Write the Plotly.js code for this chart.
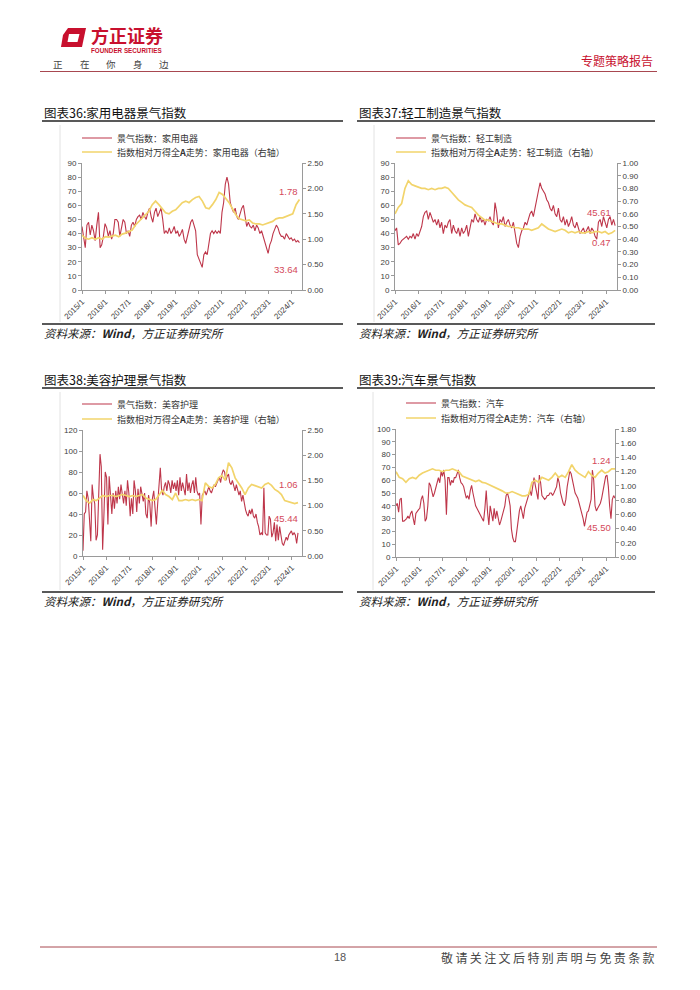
<!DOCTYPE html>
<html><head><meta charset="utf-8">
<script src="https://cdn.plot.ly/plotly-3.0.1.min.js"></script>
<style>html,body{margin:0;padding:0;background:#fff}#c{width:700px;height:990px}</style>
</head><body><div id="c"></div>
<script>
// ---------------- DATA ----------------
const yearTicksStart = '2015-01-01';

// 图表36 家用电器
const homeApplianceIdx = [45,38,30,46,48,39,46,42,35,46,55,30,32,38,47,44,38,42,36,40,50,50,48,38,45,50,48,40,42,38,46,48,45,50,52,53,50,55,52,50,55,58,52,48,55,58,52,55,58,50,40,42,40,44,40,42,45,40,42,38,40,43,36,33,38,42,48,50,45,42,25,22,18,16,25,27,25,32,40,42,40,42,40,42,40,55,62,75,80,75,62,58,55,58,52,50,55,58,60,52,45,48,45,44,46,42,46,44,40,42,38,35,30,26,32,35,40,43,46,44,40,38,38,36,40,38,36,37,35,36,34,35,33.64];
const homeApplianceRel = [1.08,1.02,1.0,1.03,1.0,1.03,1.0,1.05,1.04,1.06,1.08,1.05,1.1,1.12,1.15,1.18,1.28,1.35,1.42,1.48,1.55,1.68,1.75,1.68,1.6,1.52,1.5,1.55,1.58,1.65,1.72,1.75,1.72,1.78,1.82,1.84,1.75,1.62,1.6,1.68,1.78,1.92,1.88,1.8,1.72,1.6,1.48,1.4,1.38,1.36,1.38,1.32,1.3,1.3,1.28,1.3,1.33,1.35,1.4,1.42,1.42,1.45,1.48,1.5,1.68,1.78];

// 图表37 轻工制造
const lightMfgIdx = [42,44,32,33,35,36,37,38,36,38,37,40,36,40,38,42,45,52,55,56,50,55,52,48,50,46,50,44,48,40,46,44,48,50,40,46,42,40,44,38,44,40,42,46,38,44,50,48,54,50,48,52,48,50,46,50,49,52,48,46,62,55,44,50,48,52,45,48,50,46,44,48,40,33,30,38,42,44,48,46,50,54,56,52,58,65,72,76,72,70,68,64,62,58,56,60,54,52,58,50,48,52,46,50,45,48,52,46,44,48,44,40,42,44,40,42,45,40,44,42,38,36,48,50,45,52,48,44,50,52,46,50,45.61];
const lightMfgRel = [0.6,0.65,0.68,0.8,0.86,0.83,0.82,0.81,0.8,0.8,0.79,0.8,0.79,0.8,0.8,0.81,0.8,0.77,0.74,0.71,0.69,0.67,0.66,0.65,0.62,0.59,0.57,0.55,0.55,0.54,0.53,0.52,0.52,0.51,0.5,0.5,0.49,0.49,0.48,0.48,0.48,0.47,0.48,0.49,0.52,0.5,0.48,0.47,0.46,0.47,0.48,0.47,0.45,0.46,0.45,0.46,0.45,0.45,0.46,0.45,0.46,0.46,0.45,0.46,0.44,0.45,0.47];

// 图表38 美容护理
const beautyIdx = [5,40,42,62,55,38,14,68,55,50,15,20,70,97,85,6,40,80,75,30,76,58,40,60,45,62,50,66,54,68,60,50,62,48,72,60,38,55,40,72,62,42,64,50,66,58,52,60,40,36,58,50,28,55,62,45,30,50,72,84,62,58,66,70,62,72,68,60,72,64,70,62,72,58,75,62,70,62,58,78,62,70,60,68,72,60,75,62,58,60,30,58,60,62,58,62,66,62,60,64,68,66,70,72,75,70,78,82,80,72,76,78,70,68,72,66,62,68,64,58,62,52,58,50,44,40,38,44,40,45,38,36,40,32,28,20,22,20,65,22,20,20,38,35,18,22,32,14,30,15,28,20,12,10,14,18,15,20,22,24,20,22,20,12,22];
const beautyRel = [1.2,1.1,1.05,1.12,1.1,1.15,1.2,1.18,1.2,1.2,1.18,1.2,1.22,1.2,1.18,1.2,1.18,1.2,1.22,1.15,1.12,1.1,1.12,1.2,1.3,1.22,1.18,1.12,1.25,1.1,1.1,1.12,1.1,1.12,1.1,1.12,1.1,1.45,1.38,1.35,1.42,1.55,1.6,1.5,1.85,1.75,1.55,1.45,1.35,1.22,1.35,1.42,1.4,1.38,1.35,1.42,1.45,1.4,1.32,1.28,1.22,1.1,1.08,1.05,1.04,1.06];

// 图表39 汽车
const autoIdx = [40,42,35,45,46,28,28,29,30,32,30,34,36,30,25,34,36,37,38,45,48,42,28,30,40,58,56,52,47,50,54,60,62,58,67,63,68,60,33,62,62,56,60,58,62,62,66,68,62,58,57,55,50,46,48,45,52,56,50,44,40,38,36,35,32,30,28,38,52,35,25,40,32,28,38,30,36,30,25,28,32,36,40,48,50,46,40,22,15,12,12,20,28,36,40,35,30,38,42,46,50,52,48,55,62,56,50,45,64,58,48,46,45,46,48,48,50,50,48,50,52,55,62,58,50,45,42,40,45,55,60,67,65,60,55,50,48,46,42,38,35,30,24,30,35,36,40,45,68,60,40,36,38,40,42,46,52,60,63,64,55,40,30,45,48,46];
const autoRel = [1.2,1.12,1.1,1.05,1.1,1.12,1.1,1.15,1.18,1.2,1.22,1.24,1.22,1.22,1.2,1.22,1.22,1.24,1.22,1.2,1.14,1.12,1.1,1.08,1.06,1.08,1.05,1.04,1.02,1.0,0.98,0.96,0.93,0.9,0.9,0.92,0.9,0.88,0.86,0.86,0.88,1.05,1.08,1.05,1.12,1.1,1.08,1.12,1.18,1.12,1.15,1.12,1.2,1.3,1.22,1.18,1.15,1.12,1.2,1.15,1.12,1.18,1.22,1.18,1.2,1.24,1.24];

// series time spans (first / last observation)
const seriesStart = ['2015-01-01','2015-01-01','2015-01-01','2015-01-01'];
const seriesEnd   = ['2024-05-01','2024-05-20','2024-04-08','2024-05-20'];

const chartTitles = ['图表36:家用电器景气指数','图表37:轻工制造景气指数','图表38:美容护理景气指数','图表39:汽车景气指数'];
const sectorNames = ['家用电器','轻工制造','美容护理','汽车'];
const endLabels = [['1.78','33.64'],['45.61','0.47'],['1.06','45.44'],['1.24','45.50']];
const leftRanges = [[0,90,10],[0,90,10],[0,120,20],[0,100,10]];
const rightRanges = [[0,2.5,0.5],[0,1.0,0.1],[0,2.5,0.5],[0,1.8,0.2]];
const sourceText = '资料来源：<b>Wind</b>，方正证券研究所';

// ---------------- helpers / styling ----------------
const W = 700, H = 990;
const X = v => v / W, Y = v => 1 - v / H;
function dateSpan(start, end, n) {
  const a = Date.parse(start), b = Date.parse(end), out = [];
  for (let i = 0; i < n; i++) out.push(new Date(a + (b - a) * i / (n - 1)).toISOString().slice(0, 10));
  return out;
}
const RED = '#BE364A', YEL = '#F2D46B', AX = '#9a9a9a', TXT = '#404040', LBL = '#D4495A';
const CJK = 'Noto Sans CJK SC, sans-serif', LAT = 'Liberation Sans, Arial, sans-serif';

const idxData = [homeApplianceIdx, lightMfgIdx, beautyIdx, autoIdx];
const relData = [homeApplianceRel, lightMfgRel, beautyRel, autoRel];

// panel geometry in page pixels
const boxes = [
  {l:82, r:302, t:163, b:290, xr:'2024-06-10', colX:42, tY:112, lineR:343, srcY:324, frameX:60, legX:117, legY:[138,152], lab:[[300,191],[300,269]]},
  {l:395, r:617, t:163, b:290, xr:'2024-06-18', colX:357, tY:112, lineR:655, srcY:324, frameX:374, legX:431, legY:[138,152], lab:[[613,212],[613,242]]},
  {l:83, r:302, t:430, b:556, xr:'2024-06-10', colX:42, tY:379, lineR:343, srcY:592, frameX:60, legX:117, legY:[404,419], lab:[[300,485],[300,518]]},
  {l:396, r:615, t:429, b:557, xr:'2024-05-20', colX:357, tY:379, lineR:655, srcY:592, frameX:373, legX:441, legY:[403,418], lab:[[613,460],[613,527]]}
];

const traces = [], shapes = [], annotations = [];
const layout = {
  width: W, height: H, margin: {l:0, r:0, t:0, b:0},
  paper_bgcolor: '#fff', plot_bgcolor: 'rgba(0,0,0,0)', showlegend: true,
  font: {family: LAT, color: TXT}
};

boxes.forEach((bx, i) => {
  const xk = i === 0 ? 'x' : 'x' + (i + 1);
  const yl = i === 0 ? 'y' : 'y' + (2 * i + 1);
  const yr = 'y' + (2 * i + 2);
  const legA = i === 0 ? 'legend' : 'legend' + (2 * i + 1);
  const legB = 'legend' + (2 * i + 2);
  const tf = {family: LAT, size: 8, color: TXT};
  layout['xaxis' + (i ? i + 1 : '')] = {
    domain: [X(bx.l), X(bx.r)], anchor: yl, type: 'date',
    range: [seriesStart[i], bx.xr], tick0: yearTicksStart, dtick: 'M12', tickformat: '%Y/%-m',
    tickangle: -45, showline: true, linecolor: AX, linewidth: 1, ticks: 'outside', ticklen: 3, tickcolor: AX,
    showgrid: false, zeroline: false, tickfont: tf
  };
  layout['yaxis' + (2 * i + 1 === 1 ? '' : 2 * i + 1)] = {
    domain: [Y(bx.b), Y(bx.t)], anchor: xk, range: [leftRanges[i][0], leftRanges[i][1]], dtick: leftRanges[i][2],
    showline: true, linecolor: AX, ticks: 'outside', ticklen: 3, tickcolor: AX, showgrid: false, zeroline: false, tickfont: tf
  };
  layout['yaxis' + (2 * i + 2)] = {
    overlaying: yl, side: 'right', anchor: xk, range: [rightRanges[i][0], rightRanges[i][1]], dtick: rightRanges[i][2],
    tickformat: '.2f', showline: true, linecolor: AX, ticks: 'outside', ticklen: 3, tickcolor: AX,
    showgrid: false, zeroline: false, tickfont: tf
  };
  [legA, legB].forEach((lk, k) => {
    layout[lk] = {
      x: X(bx.legX - 40), y: Y(bx.legY[k]), xanchor: 'left', yanchor: 'middle', bgcolor: 'rgba(0,0,0,0)',
      borderwidth: 0, font: {family: CJK, size: 9, color: '#333'}, tracegroupgap: 0
    };
  });
  traces.push({
    type: 'scatter', mode: 'lines', x: dateSpan(seriesStart[i], seriesEnd[i], idxData[i].length), y: idxData[i],
    xaxis: xk, yaxis: yl, name: '景气指数：' + sectorNames[i], legend: legA,
    line: {color: RED, width: 1.1}, hoverinfo: 'skip'
  });
  traces.push({
    type: 'scatter', mode: 'lines', x: dateSpan(seriesStart[i], seriesEnd[i], relData[i].length), y: relData[i],
    xaxis: xk, yaxis: yr, name: '指数相对万得全<b>A</b>走势：' + sectorNames[i] + '（右轴）', legend: legB,
    line: {color: YEL, width: 1.7}, hoverinfo: 'skip'
  });
  // title, rules, source, frame
  annotations.push({xref:'paper', yref:'paper', x: X(bx.colX), y: Y(bx.tY), xanchor:'left', yanchor:'middle',
    text: chartTitles[i], showarrow:false, font:{family: CJK, size: 12.5, color:'#111'}});
  shapes.push({type:'line', xref:'paper', yref:'paper', x0:X(bx.colX), x1:X(bx.lineR), y0:Y(bx.tY + 9), y1:Y(bx.tY + 9), line:{color:'#222', width:1.6}});
  shapes.push({type:'line', xref:'paper', yref:'paper', x0:X(bx.colX), x1:X(bx.lineR), y0:Y(bx.srcY), y1:Y(bx.srcY), line:{color:'#222', width:1.6}});
  shapes.push({type:'line', xref:'paper', yref:'paper', x0:X(bx.frameX), x1:X(bx.frameX), y0:Y(bx.tY + 13), y1:Y(bx.srcY - 2), line:{color:'#e2e2e2', width:1}});
  annotations.push({xref:'paper', yref:'paper', x: X(bx.colX), y: Y(bx.srcY + 9), xanchor:'left', yanchor:'middle',
    text: '<i>' + sourceText + '</i>', showarrow:false, font:{family: CJK, size: 11.5, color:'#222'}});
  endLabels[i].forEach((t, k) => annotations.push({xref:'paper', yref:'paper', x: X(bx.lab[k][0]), y: Y(bx.lab[k][1]),
    xanchor:'right', yanchor:'middle', text: t, showarrow:false, font:{family: LAT, size: 9.5, color: LBL}}));
});

// ---------------- page header / footer ----------------
const p = (x, y) => X(x).toFixed(5) + ',' + Y(y).toFixed(5);
shapes.push({type:'path', xref:'paper', yref:'paper', fillcolor:'#C8102E', line:{width:0},
  path: 'M' + p(68,28) + 'L' + p(86,28) + 'L' + p(82,47) + 'L' + p(61,47) + 'L' + p(63,35) + 'Z'});
shapes.push({type:'path', xref:'paper', yref:'paper', fillcolor:'#fff', line:{width:0},
  path: 'M' + p(69,34) + 'L' + p(79.5,34) + 'L' + p(77.5,42) + 'L' + p(67.5,42) + 'Z'});
annotations.push({xref:'paper', yref:'paper', x:X(89), y:Y(35.5), xanchor:'left', yanchor:'middle', showarrow:false,
  text:'<b>方正证券</b>', font:{family:CJK, size:18, color:'#C8102E'}});
annotations.push({xref:'paper', yref:'paper', x:X(89), y:Y(50.5), xanchor:'left', yanchor:'middle', showarrow:false,
  text:'<b>FOUNDER SECURITIES</b>', font:{family:LAT, size:6.3, color:'#C8102E'}});
['正','在','你','身','边'].forEach((c, k) => annotations.push({xref:'paper', yref:'paper', x:X(58 + k * 26.5), y:Y(64),
  xanchor:'center', yanchor:'middle', showarrow:false, text:c, font:{family:CJK, size:9.5, color:'#444'}}));
annotations.push({xref:'paper', yref:'paper', x:X(655), y:Y(61), xanchor:'right', yanchor:'middle', showarrow:false,
  text:'专题策略报告', font:{family:CJK, size:12, color:'#C8102E'}});
shapes.push({type:'line', xref:'paper', yref:'paper', x0:X(40), x1:X(657), y0:Y(71.5), y1:Y(71.5), line:{color:'#A84850', width:1}});
shapes.push({type:'line', xref:'paper', yref:'paper', x0:X(40), x1:X(657), y0:Y(947), y1:Y(947), line:{color:'#A84850', width:1}});
annotations.push({xref:'paper', yref:'paper', x:X(340), y:Y(957), xanchor:'center', yanchor:'middle', showarrow:false,
  text:'18', font:{family:LAT, size:11, color:'#555'}});
annotations.push({xref:'paper', yref:'paper', x:X(657), y:Y(957), xanchor:'right', yanchor:'middle', showarrow:false,
  text:'敬\u2009请\u2009关\u2009注\u2009文\u2009后\u2009特\u2009别\u2009声\u2009明\u2009与\u2009免\u2009责\u2009条\u2009款', font:{family:CJK, size:12, color:'#444'}});

layout.shapes = shapes;
layout.annotations = annotations;
Plotly.newPlot('c', traces, layout, {staticPlot: true, displayModeBar: false});
</script>
</body></html>
